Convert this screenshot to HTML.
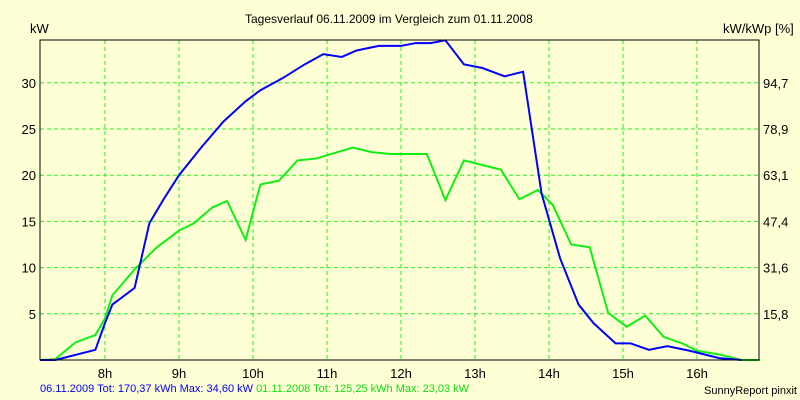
<!DOCTYPE html>
<html><head><meta charset="utf-8"><style>
body{margin:0;background:#ffffd6;}
svg{display:block;font-family:"Liberation Sans",sans-serif;}
</style></head><body>
<svg id="c" width="800" height="400" viewBox="0 0 800 400">
<rect width="800" height="400" fill="#ffffd6"/>
<g id="grid"></g><g id="series"></g><g id="axes"></g>
</svg>
<script>
const hourTicks=[8,9,10,11,12,13,14,15,16];
const kwTicks=[5,10,15,20,25,30];
const pctTicks=["15,8","31,6","47,4","63,1","78,9","94,7"];
const blueT=[7.12,7.33,7.87,8.0,8.1,8.4,8.6,8.8,9.0,9.3,9.6,9.9,10.1,10.4,10.7,10.95,11.2,11.4,11.7,12.0,12.2,12.4,12.6,12.85,13.1,13.4,13.65,13.9,14.15,14.4,14.6,14.9,15.1,15.35,15.6,15.9,16.3,16.6];
const blueV=[0,0,1.1,4,6.0,7.8,14.8,17.5,20,23,25.8,28,29.2,30.5,32,33.1,32.8,33.5,34,34,34.3,34.3,34.6,32,31.6,30.7,31.2,18,11,6,4,1.8,1.8,1.1,1.5,1.0,0.2,0];
const greenT=[7.12,7.33,7.6,7.87,8.0,8.1,8.4,8.7,9.0,9.2,9.45,9.65,9.9,10.1,10.35,10.6,10.85,11.1,11.35,11.6,11.85,12.35,12.6,12.85,13.35,13.6,13.85,14.05,14.3,14.55,14.8,15.05,15.3,15.55,15.8,16.0,16.3,16.6,16.85];
const greenV=[0,0.1,1.9,2.7,4.5,7,9.8,12.2,14,14.8,16.5,17.2,13,19,19.4,21.6,21.8,22.4,23,22.5,22.3,22.3,17.3,21.6,20.6,17.4,18.4,16.8,12.5,12.2,5.1,3.6,4.8,2.5,1.8,1.0,0.6,0,0];
const L=40,R=759,T=40,B=360;
const X=h=>105+(h-8)*74;
const Y=v=>B-v*9.24;
const NS="http://www.w3.org/2000/svg";
function mk(tag,parent,attrs){const e=document.createElementNS(NS,tag);for(const k in attrs)e.setAttribute(k,attrs[k]);document.getElementById(parent).appendChild(e);return e;}
hourTicks.forEach(h=>{
 const g=mk('line','grid',{x1:X(h),x2:X(h),y1:T,y2:B,stroke:'#22ee22','stroke-dasharray':'4,3'});
 
 
 const t=mk('text','axes',{x:X(h),y:378,'text-anchor':'middle','font-size':13});
 t.textContent=h+'h';
 
 
});
kwTicks.forEach((v,i)=>{
 const g=mk('line','grid',{x1:L,x2:R,y1:Y(v),y2:Y(v),stroke:'#22ee22','stroke-dasharray':'4,3'});
 
 
 const t=mk('text','axes',{x:36,y:Y(v)+5,'text-anchor':'end','font-size':13});
 t.textContent=v;
 
 
 const t2=mk('text','axes',{x:763,y:Y(v)+5,'font-size':13});
 t2.textContent=pctTicks[i];
 
 
});
function line(ts,vs,col,name){
 const p=mk('polyline','series',{points:ts.map((t,i)=>X(t)+','+Y(vs[i])).join(' '),fill:'none',stroke:col,'stroke-width':2});
 
 
}
line(greenT,greenV,'#11ee11','series-2008');
line(blueT,blueV,'#0000ff','series-2009');
const box=mk('path','axes',{d:`M${L},${B}V${T}H${R}V${B}H${L}`,fill:'none',stroke:'#000','stroke-width':1});


</script>
<div style="position:absolute;left:0;top:0;width:800px;height:400px;font-family:'Liberation Sans',sans-serif;font-size:13px;pointer-events:none">
<div style="position:absolute;left:245px;top:12px;font-size:12px">Tagesverlauf 06.11.2009 im Vergleich zum 01.11.2008</div>
<div style="position:absolute;left:30px;top:21px">kW</div>
<div style="position:absolute;left:723px;top:21px">kW/kWp [%]</div>
<div style="position:absolute;left:40px;top:383px;font-size:11px;white-space:nowrap"><span style="color:#0000ff">06.11.2009 Tot: 170,37 kWh Max: 34,60 kW</span> <span style="color:#11dd11">01.11.2008 Tot: 125,25 kWh Max: 23,03 kW</span></div>
<div style="position:absolute;right:3px;top:385px;font-size:11px">SunnyReport pinxit</div>
</div>
</body></html>
